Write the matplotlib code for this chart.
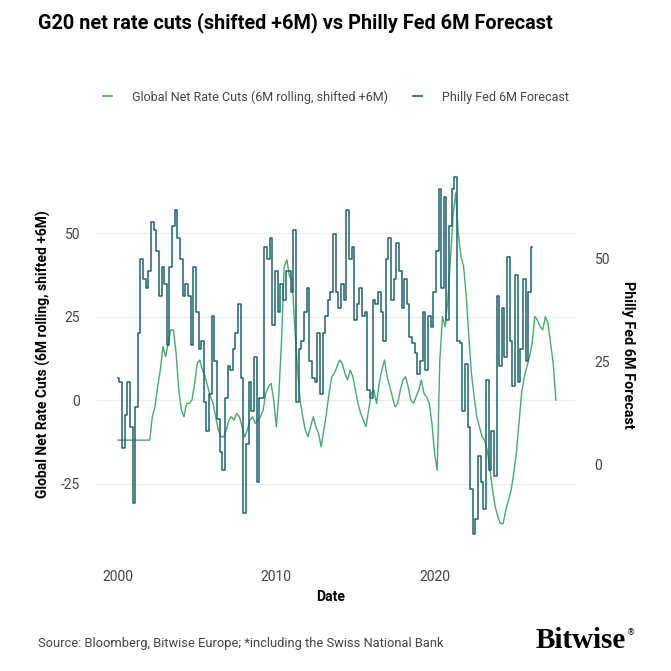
import matplotlib
matplotlib.use("Agg")
import matplotlib.pyplot as plt
from matplotlib.lines import Line2D
import pandas as pd

plt.rcParams['font.family'] = ['Roboto', 'DejaVu Sans']
plt.rcParams['axes.unicode_minus'] = False

# valores bimestrales desde enero 2000
rate_cuts = [
    -12, -12, -12, -12, -12, -12, -12, -12, -12, -12, -12, -12, -12,
    -5, -2, 4, 9, 16, 13, 17, 21, 21, 14, 3,
    -3, -5, -1, -1, 0, 5, 11, 12, 9, 7, 4, 1,
    -1, -5, -9, -11, -11, -9, -6, -5, -6, -4, -5, -8,
    -11, -9, -6, -5, -7, -6, -5, -3, 2, 4, 5, 0,
    -8, 2, 18, 40, 42, 37, 36, 22, 10, 0, -5, -9,
    -11, -8, -5, -8, -10, -14, -9, -4, 2, 7, 8, 10,
    12, 11, 8, 6, 9, 7, 3, -1, -4, -6, -8, -3,
    2, 3, -1, 5, 9, 12, 7, 4, 1, -2, -1, 3,
    6, 7, 4, 0, -1, 1, 3, 6, 2, 1, -1, -7,
    -16, -21, 12, 25, 22, 30, 42, 55, 62, 50, 43, 40,
    31, 19, 8, 1, -5, -8, -11, -12, -15, -21, -27, -32,
    -35, -37, -37, -33, -30, -27, -22, -16, -7, 2, 7, 10,
    13, 17, 25, 24, 22, 21, 25, 23, 17, 11, 0,
]

philly_fed = [
    21, 20, 4, 12, 20, 9, -9.5, 14, 32, 50, 45, 43,
    47, 59, 57, 52, 41, 48, 44, 29, 48, 58, 62, 55,
    50, 41, 44, 41, 29, 48, 37, 28, 30, 15, 8, 17,
    36, 25, 11, 3, -1.5, 16, 24, 23, 28, 32, 39, 21,
    -12, 5, 20, 13, 26, -4.5, 16, 16, 53, 50, 55, 34,
    47, 37, 44, 40, 47, 47, 42, 57, 15, 28, 30, 37,
    43, 25, 21, 20, 32, 17, 32, 36, 40, 42, 56, 42,
    38, 44, 40, 62, 50, 53, 35, 39, 43, 36, 37, 18,
    16, 40, 39, 42, 37, 30, 50, 55, 40, 45, 54, 47,
    38, 45, 39, 31, 29.5, 27, 22, 25, 37, 23, 36, 33.5,
    42, 52, 67, 43, 65, 35, 58, 67, 70, 30, 29.5, 13,
    24.5, 9, -6, -17, -13.5, 2, -4.5, -11, 20.5, -1.5, 8, -3,
    41, 24, 38, 26, 50.5, 30, 19, 46, 20, 28, 45, 25,
    42, 53,
]

rate_dates = pd.date_range('2000-01-01', periods=len(rate_cuts), freq='2MS')
philly_dates = pd.date_range('2000-01-01', periods=len(philly_fed), freq='2MS')

green = '#4aa96c'
teal = '#22606c'
grey_txt = '#444444'

fig = plt.figure(figsize=(6.71, 6.71), dpi=100)
ax = fig.add_axes([97 / 671, 1 - 560 / 671, 478 / 671, 395 / 671])
ax2 = ax.twinx()

ax.plot(rate_dates, rate_cuts, color=green, lw=1.0)
ax2.plot(philly_dates, philly_fed, color=teal, lw=1.1, drawstyle='steps-mid')

ax.set_xlim(pd.Timestamp('1998-09-01'), pd.Timestamp('2028-11-15'))
ax.set_ylim(-47.9, 70.4)
ax2.set_ylim(-23.4, 72.9)

ax.set_yticks([-25, 0, 25, 50])
ax2.set_yticks([0, 25, 50])
ax.set_xticks([pd.Timestamp('2000-01-01'), pd.Timestamp('2010-01-01'), pd.Timestamp('2020-01-01')])
ax.set_xticklabels(['2000', '2010', '2020'])

for a in (ax, ax2):
    for s in a.spines.values():
        s.set_visible(False)
ax.grid(axis='y', color='#eeeeee', lw=0.9)
ax.set_axisbelow(True)
ax.tick_params(axis='y', length=0, pad=12, labelsize=10, labelcolor=grey_txt)
ax.tick_params(axis='x', length=0, pad=7, labelsize=10, labelcolor=grey_txt)
ax2.tick_params(axis='y', length=0, pad=14, labelsize=10, labelcolor=grey_txt)

ax.set_ylabel('Global Net Rate Cuts (6M rolling, shifted +6M)', fontsize=10,
              fontweight='bold', color='black', va='center')
ax.yaxis.set_label_coords(-0.113, 0.52)
ax2.set_ylabel('Philly Fed 6M Forecast', fontsize=10.4, fontweight='bold',
               color='black', rotation=270, va='center')
ax2.yaxis.set_label_coords(1.111, 0.52)

fig.text(331 / 671, 1 - 597 / 671, 'Date', fontsize=10, fontweight='bold',
         ha='center', va='center')

fig.text(38 / 671, 1 - 23 / 671,
         'G20 net rate cuts (shifted +6M) vs Philly Fed 6M Forecast',
         fontsize=14.3, fontweight='bold', ha='left', va='center')

handles = [Line2D([], [], color=green, lw=1.2), Line2D([], [], color=teal, lw=1.2)]
fig.legend(handles, ['Global Net Rate Cuts (6M rolling, shifted +6M)', 'Philly Fed 6M Forecast'],
           loc='center', bbox_to_anchor=(336 / 671, 1 - 97 / 671), ncol=2, frameon=False,
           handlelength=0.7, handletextpad=1.6, columnspacing=2.0, fontsize=9,
           labelcolor=grey_txt)

fig.text(38 / 671, 1 - 644 / 671,
         'Source: Bloomberg, Bitwise Europe; *including the Swiss National Bank',
         fontsize=9.3, color=grey_txt, ha='left', va='center')
fig.text(626 / 671, 1 - 640 / 671, 'Bitwise', fontsize=21, family='Liberation Serif',
         fontweight='bold', ha='right', va='center')
fig.text(627 / 671, 1 - 633 / 671, '®', fontsize=6, family='DejaVu Sans',
         ha='left', va='center')

fig.savefig('out.png', dpi=100)
